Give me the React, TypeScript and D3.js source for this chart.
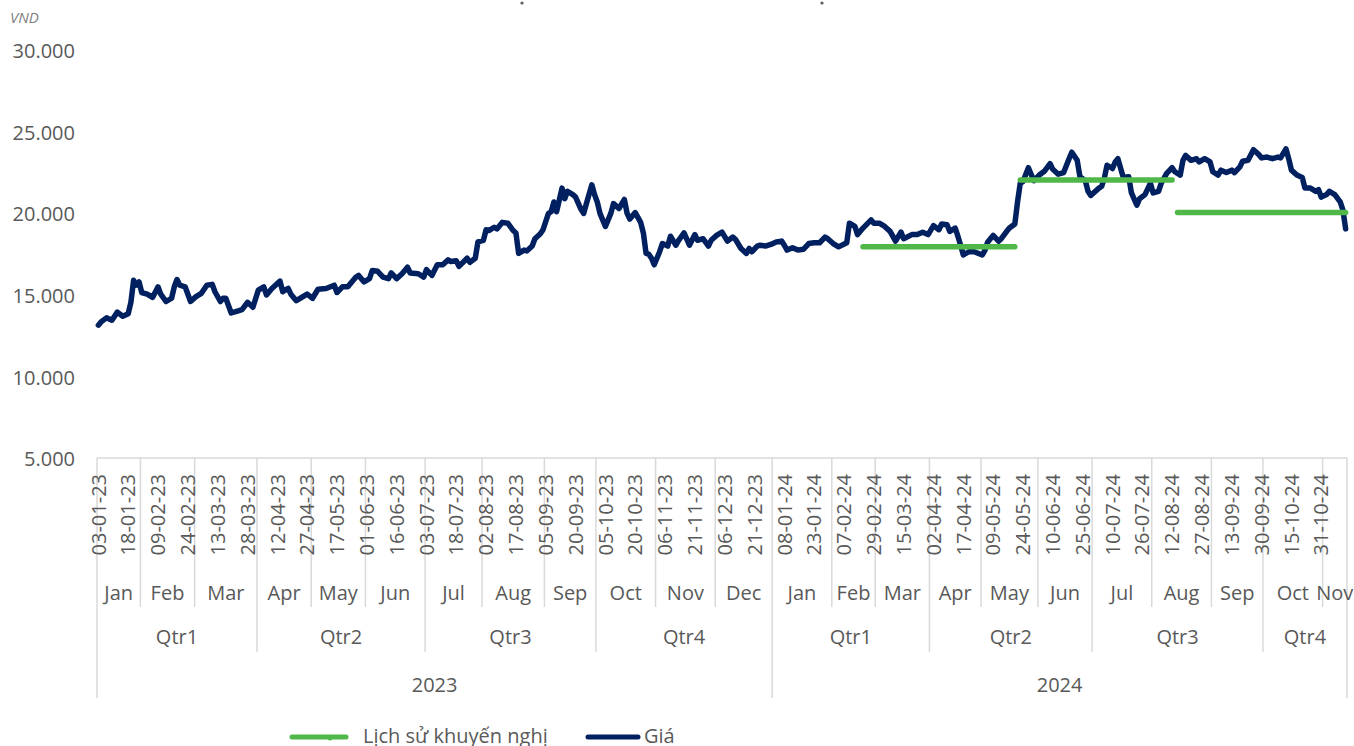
import { useEffect, useRef } from 'react';
import * as d3 from 'd3';

// axis categories
const yearLabels = ['2023', '2024'];
const monthLabels = ['Jan', 'Feb', 'Mar', 'Apr', 'May', 'Jun', 'Jul', 'Aug', 'Sep', 'Oct', 'Nov', 'Dec'];
const tradingDays2023 = [16, 20, 23, 20, 20, 22, 21, 23, 19, 22, 22, 21];
const tradingDays2024 = [22, 16, 20, 19, 21, 20, 22, 22, 19, 22, 9];
const quarterLabels = ['Qtr1', 'Qtr2', 'Qtr3', 'Qtr4'];
const dateLabels = [
    '03-01-23', '18-01-23', '09-02-23', '24-02-23', '13-03-23', '28-03-23', '12-04-23', '27-04-23',
    '17-05-23', '01-06-23', '16-06-23', '03-07-23', '18-07-23', '02-08-23', '17-08-23', '05-09-23',
    '20-09-23', '05-10-23', '20-10-23', '06-11-23', '21-11-23', '06-12-23', '21-12-23', '08-01-24',
    '23-01-24', '07-02-24', '29-02-24', '15-03-24', '02-04-24', '17-04-24', '09-05-24', '24-05-24',
    '10-06-24', '25-06-24', '10-07-24', '26-07-24', '12-08-24', '27-08-24', '13-09-24', '30-09-24',
    '15-10-24', '31-10-24',
];
const yTicks = [5000, 10000, 15000, 20000, 25000, 30000];

// price (trading day index, VND)
const pricePoints: [number, number][] = [
    [0, 13200], [1, 13400], [3, 13650], [5, 13500], [7, 14000], [9, 13750], [11, 13900], [12, 14600],
    [13, 15950], [14, 15650], [15, 15850], [16, 15200], [18, 15100], [20, 14900], [22, 15550], [23, 15100],
    [25, 14650], [27, 14850], [28, 15550], [29, 16000], [30, 15650], [32, 15550], [34, 14650], [36, 14950],
    [38, 15150], [40, 15650], [42, 15700], [43, 15250], [45, 14650], [46, 14850], [47, 14850], [49, 13950],
    [51, 14050], [53, 14150], [55, 14600], [57, 14300], [59, 15350], [61, 15550], [62, 15050], [64, 15450],
    [67, 15900], [68, 15250], [70, 15450], [71, 15100], [73, 14700], [75, 14900], [77, 15100], [79, 14850],
    [81, 15400], [84, 15450], [87, 15650], [88, 15200], [90, 15550], [92, 15550], [95, 16150], [96, 16250],
    [98, 15850], [100, 16050], [101, 16550], [103, 16500], [105, 16150], [107, 16050], [108, 16400], [110, 16050],
    [112, 16350], [114, 16750], [115, 16400], [118, 16350], [120, 16150], [121, 16600], [123, 16250], [125, 16900],
    [127, 16900], [129, 17200], [130, 17100], [132, 17150], [133, 16800], [136, 17300], [137, 17050], [139, 17300],
    [140, 18300], [142, 18400], [143, 19050], [144, 19000], [146, 19200], [147, 19100], [149, 19500], [151, 19450],
    [153, 19000], [154, 18850], [155, 17600], [157, 17800], [158, 17750], [160, 18050], [161, 18500], [163, 18800],
    [164, 19050], [166, 20050], [167, 20150], [168, 20750], [169, 20150], [171, 21600], [172, 20950], [173, 21400],
    [175, 21200], [176, 21050], [178, 20300], [179, 20050], [180, 20650], [182, 21800], [183, 21200], [184, 20750],
    [185, 20050], [187, 19250], [189, 20050], [190, 20650], [192, 20350], [194, 20900], [195, 20050], [196, 19700],
    [198, 20100], [200, 19500], [201, 18850], [202, 17600], [203, 17550], [204, 17300], [205, 16900], [207, 17700],
    [208, 18200], [210, 18050], [211, 18650], [213, 18100], [214, 18400], [216, 18850], [218, 18100], [220, 18750],
    [221, 18400], [223, 18500], [225, 18050], [226, 18400], [228, 18700], [230, 18900], [232, 18350], [234, 18600],
    [235, 18450], [237, 17900], [239, 17600], [240, 17900], [241, 17700], [243, 18050], [244, 18100], [246, 18050],
    [248, 18150], [250, 18300], [252, 18350], [253, 18100], [254, 17800], [256, 17950], [258, 17800], [260, 17850],
    [262, 18200], [264, 18250], [266, 18250], [268, 18600], [269, 18500], [271, 18200], [273, 18000], [276, 18250],
    [277, 19450], [279, 19250], [280, 18750], [282, 19150], [285, 19650], [286, 19450], [288, 19450], [290, 19250],
    [292, 18950], [294, 18350], [296, 18900], [297, 18500], [300, 18750], [302, 18750], [304, 18900], [306, 18750],
    [308, 19300], [310, 19050], [311, 19400], [313, 19350], [314, 18950], [316, 19150], [317, 18650], [318, 18100],
    [319, 17500], [321, 17700], [323, 17700], [326, 17500], [327, 17800], [328, 18300], [330, 18700], [332, 18350],
    [333, 18500], [335, 18950], [336, 19150], [338, 19400], [339, 20750], [340, 21900], [341, 22000], [343, 22850],
    [345, 22050], [347, 22400], [349, 22650], [351, 23100], [352, 22750], [354, 22450], [356, 22550], [358, 23400],
    [359, 23800], [361, 23300], [362, 22300], [364, 22050], [365, 21400], [366, 21150], [369, 21600], [370, 21700],
    [371, 22200], [372, 23000], [374, 22800], [375, 23200], [376, 23400], [378, 22250], [380, 22300], [381, 21300],
    [383, 20550], [384, 20950], [386, 21200], [388, 21900], [389, 21300], [391, 21400], [392, 21900], [394, 22500],
    [396, 22850], [397, 22600], [399, 22400], [400, 23300], [401, 23600], [403, 23300], [405, 23400], [406, 23200],
    [408, 23400], [410, 23200], [411, 22600], [413, 22400], [414, 22700], [416, 22550], [418, 22700], [419, 22550],
    [421, 22900], [422, 23250], [424, 23300], [426, 23950], [428, 23650], [429, 23450], [431, 23500], [433, 23400],
    [435, 23500], [436, 23450], [438, 24000], [439, 23400], [440, 22700], [442, 22400], [444, 22250], [445, 21600],
    [447, 21600], [449, 21400], [450, 21500], [451, 21050], [453, 21200], [454, 21400], [456, 21200], [458, 20750],
    [459, 20250], [460, 19100],
];

// recommendation history (start index, end index, price)
const recStart = [282, 340, 398];
const recEnd = [338, 396, 460];
const recValue = [18000, 22100, 20100];

const legendNames = ['Lịch sử khuyến nghị', 'Giá'];

const GREEN = '#50B848';
const NAVY = '#002060';
const TEXT = '#595959';
const GRID = '#d9d9d9';
const FONT = "'Open Sans', 'Noto Sans', sans-serif";

export default function App() {
    const svgRef = useRef<SVGSVGElement>(null);

    useEffect(() => {
        const svg = d3.select(svgRef.current);
        svg.selectAll('*').remove();

        const width = 1354;
        const height = 746;
        const left = 97;
        const right = 1347;
        const axisY = 458;

        svg.attr('width', width).attr('height', height)
            .style('font-family', FONT);

        // months -> trading-day spans
        const months: { year: number; m: number; start: number; end: number }[] = [];
        let cursor = 0;
        [tradingDays2023, tradingDays2024].forEach((days, yi) => {
            days.forEach((d, m) => {
                months.push({ year: yi, m, start: cursor, end: cursor + d });
                cursor += d;
            });
        });
        const N = cursor;

        const x = d3.scaleBand<number>().domain(d3.range(N)).range([left, right]);
        const bw = x.bandwidth();
        const edge = (i: number) => (i >= N ? right : (x(i) as number));
        const cx = (i: number) => (x(i) as number) + bw / 2;

        const y = d3.scaleLinear().domain([5000, 30000]).range([459, 51]);

        // y labels
        svg.append('g')
            .selectAll('text')
            .data(yTicks)
            .join('text')
            .attr('x', 75)
            .attr('y', (d) => y(d))
            .attr('dy', '0.36em')
            .attr('text-anchor', 'end')
            .style('font-size', '20px')
            .attr('fill', TEXT)
            .text((d) => d3.format(',')(d).replace(/,/g, '.'));

        svg.append('text')
            .attr('x', 10)
            .attr('y', 23)
            .style('font-size', '15px')
            .style('font-style', 'italic')
            .attr('fill', '#7f7f7f')
            .text('VND');

        // title remnants at the top edge
        svg.append('g')
            .selectAll('circle')
            .data([522, 822])
            .join('circle')
            .attr('cx', (d) => d)
            .attr('cy', 3)
            .attr('r', 1.6)
            .attr('fill', TEXT);

        // x axis frame
        const boundaries = new Map<number, number>();
        months.forEach((mo) => {
            const lvl = mo.m === 0 ? 3 : mo.m % 3 === 0 ? 2 : 1;
            boundaries.set(mo.start, Math.max(boundaries.get(mo.start) || 0, lvl));
        });
        boundaries.set(N, 3);
        const levelBottom = [0, 607, 652, 698];

        const axis = svg.append('g').attr('stroke', GRID).attr('stroke-width', 1.5);
        axis.append('line')
            .attr('x1', left).attr('x2', right)
            .attr('y1', axisY).attr('y2', axisY);
        axis.selectAll('line.b')
            .data(Array.from(boundaries.entries()))
            .join('line')
            .attr('class', 'b')
            .attr('x1', (d) => edge(d[0])).attr('x2', (d) => edge(d[0]))
            .attr('y1', axisY)
            .attr('y2', (d) => levelBottom[d[1]]);

        // date labels
        svg.append('g')
            .selectAll('text')
            .data(dateLabels)
            .join('text')
            .attr('transform', (d, i) => `translate(${cx(i * 11)},474) rotate(-90)`)
            .attr('dy', '0.36em')
            .attr('text-anchor', 'end')
            .style('font-size', '20px')
            .attr('fill', TEXT)
            .text((d) => d);

        // month labels
        svg.append('g')
            .selectAll('text')
            .data(months)
            .join('text')
            .attr('x', (d) => (edge(d.start) + edge(d.end)) / 2)
            .attr('y', 593)
            .attr('dy', '0.36em')
            .attr('text-anchor', 'middle')
            .style('font-size', '20px')
            .attr('fill', TEXT)
            .text((d) => monthLabels[d.m]);

        // quarter labels
        const quarters = d3.groups(months, (d) => `${d.year}-${Math.floor(d.m / 3)}`)
            .map(([, ms]) => ({
                q: Math.floor(ms[0].m / 3),
                start: ms[0].start,
                end: ms[ms.length - 1].end,
            }));
        svg.append('g')
            .selectAll('text')
            .data(quarters)
            .join('text')
            .attr('x', (d) => (edge(d.start) + edge(d.end)) / 2)
            .attr('y', 637)
            .attr('dy', '0.36em')
            .attr('text-anchor', 'middle')
            .style('font-size', '20px')
            .attr('fill', TEXT)
            .text((d) => quarterLabels[d.q]);

        // year labels
        const years = d3.groups(months, (d) => d.year)
            .map(([yr, ms]) => ({ yr, start: ms[0].start, end: ms[ms.length - 1].end }));
        svg.append('g')
            .selectAll('text')
            .data(years)
            .join('text')
            .attr('x', (d) => (edge(d.start) + edge(d.end)) / 2)
            .attr('y', 685)
            .attr('dy', '0.36em')
            .attr('text-anchor', 'middle')
            .style('font-size', '20px')
            .attr('fill', TEXT)
            .text((d) => yearLabels[d.yr]);

        // price line
        const line = d3.line<[number, number]>()
            .x((d) => cx(d[0]))
            .y((d) => y(d[1]));

        svg.append('path')
            .datum(pricePoints)
            .attr('fill', 'none')
            .attr('stroke', NAVY)
            .attr('stroke-width', 5.5)
            .attr('stroke-linejoin', 'round')
            .attr('stroke-linecap', 'round')
            .attr('d', line);

        // recommendation segments
        svg.append('g')
            .selectAll('line')
            .data(recValue)
            .join('line')
            .attr('x1', (d, i) => cx(recStart[i]))
            .attr('x2', (d, i) => cx(recEnd[i]))
            .attr('y1', (d) => y(d))
            .attr('y2', (d) => y(d))
            .attr('stroke', GREEN)
            .attr('stroke-width', 5.5)
            .attr('stroke-linecap', 'round');

        // legend
        const legend = svg.append('g').style('font-size', '20px').attr('fill', TEXT);
        legend.append('line')
            .attr('x1', 292).attr('x2', 346).attr('y1', 737).attr('y2', 737)
            .attr('stroke', GREEN).attr('stroke-width', 5).attr('stroke-linecap', 'round');
        legend.append('circle')
            .attr('cx', 330).attr('cy', 738).attr('r', 2.5).attr('fill', GREEN);
        legend.append('text').attr('x', 363).attr('y', 743).text(legendNames[0]);
        legend.append('line')
            .attr('x1', 588).attr('x2', 638).attr('y1', 737).attr('y2', 737)
            .attr('stroke', NAVY).attr('stroke-width', 5).attr('stroke-linecap', 'round');
        legend.append('text').attr('x', 644).attr('y', 743).text(legendNames[1]);
    }, []);

    return (
        <div style={{ position: 'absolute', left: 0, top: 0, background: '#fff' }}>
            <svg ref={svgRef} style={{ display: 'block' }} />
        </div>
    );
}
